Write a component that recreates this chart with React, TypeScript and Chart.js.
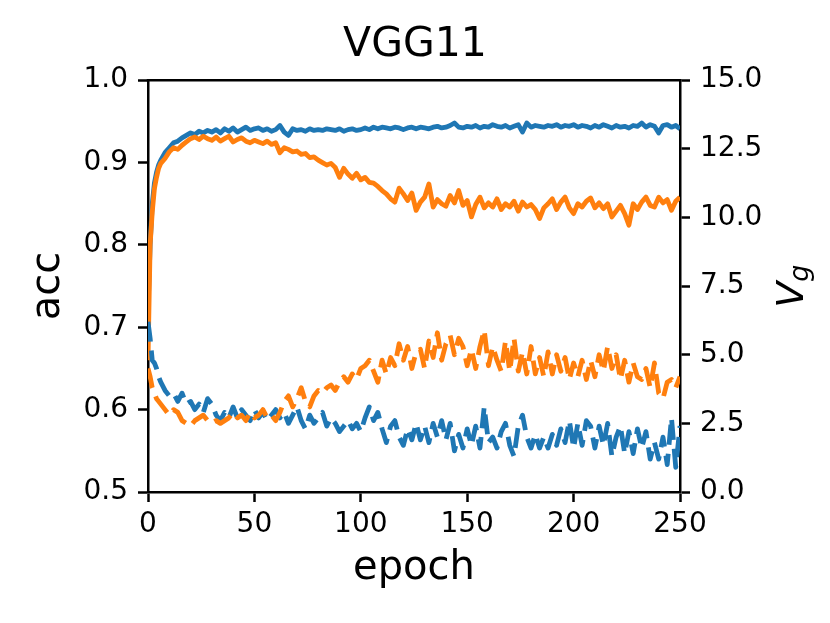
import { useEffect, useRef } from 'react';
import { Chart, registerables } from 'chart.js';

Chart.register(...registerables);

// epochs sampled from the plot (dense at the start, every 2 epochs afterwards)
const EPOCHS = [
  0, 1, 2, 3, 4, 5, 6,
  8, 10, 12, 14, 16, 18, 20, 22, 24, 26,
  28, 30, 32, 34, 36, 38, 40, 42, 44, 46,
  48, 50, 52, 54, 56, 58, 60, 62, 64, 66,
  68, 70, 72, 74, 76, 78, 80, 82, 84, 86,
  88, 90, 92, 94, 96, 98, 100, 102, 104, 106,
  108, 110, 112, 114, 116, 118, 120, 122, 124, 126,
  128, 130, 132, 134, 136, 138, 140, 142, 144, 146,
  148, 150, 152, 154, 156, 158, 160, 162, 164, 166,
  168, 170, 172, 174, 176, 178, 180, 182, 184, 186,
  188, 190, 192, 194, 196, 198, 200, 202, 204, 206,
  208, 210, 212, 214, 216, 218, 220, 222, 224, 226,
  228, 230, 232, 234, 236, 238, 240, 242, 244, 246,
  248, 250,
];

// acc, left axis
const TRAIN_ACC = [
  0.72, 0.80, 0.85, 0.875, 0.888, 0.897, 0.903,
  0.912, 0.918, 0.924, 0.926, 0.930, 0.933, 0.936, 0.934, 0.938, 0.936,
  0.939, 0.937, 0.940, 0.936, 0.941, 0.938, 0.942, 0.937, 0.940, 0.943,
  0.939, 0.941, 0.942, 0.939, 0.941, 0.938, 0.940, 0.945, 0.937, 0.933,
  0.941, 0.939, 0.940, 0.938, 0.941, 0.939, 0.940, 0.939, 0.941, 0.940,
  0.939, 0.941, 0.938, 0.940, 0.941, 0.939, 0.940, 0.942, 0.940, 0.943,
  0.941, 0.943, 0.942, 0.941, 0.943, 0.942, 0.940, 0.942, 0.943, 0.941,
  0.943, 0.942, 0.941, 0.943, 0.944, 0.942, 0.943, 0.945, 0.948, 0.943,
  0.942, 0.944, 0.943, 0.945, 0.942, 0.944, 0.943, 0.946, 0.944, 0.943,
  0.945, 0.942, 0.944, 0.946, 0.937, 0.948, 0.943, 0.945, 0.944, 0.943,
  0.945, 0.944, 0.946, 0.943, 0.945, 0.944, 0.946, 0.943, 0.945, 0.944,
  0.942, 0.945, 0.943, 0.946, 0.944, 0.942, 0.945, 0.943, 0.944, 0.942,
  0.945, 0.944, 0.948, 0.943, 0.946, 0.944, 0.936, 0.945, 0.946, 0.943,
  0.945, 0.941,
];

const TEST_ACC = [
  0.66, 0.80, 0.84, 0.868, 0.882, 0.893, 0.899,
  0.905, 0.913, 0.918, 0.916, 0.921, 0.925, 0.929, 0.931, 0.928, 0.932,
  0.929, 0.927, 0.931, 0.926, 0.929, 0.932, 0.925, 0.928, 0.930, 0.926,
  0.924, 0.927, 0.925, 0.923, 0.926, 0.922, 0.924, 0.912, 0.918, 0.916,
  0.913, 0.914, 0.910, 0.911, 0.906, 0.907, 0.903, 0.900, 0.897, 0.899,
  0.894, 0.882, 0.893, 0.886, 0.881, 0.887, 0.879, 0.882, 0.876, 0.875,
  0.871, 0.866, 0.862, 0.856, 0.852, 0.869, 0.862, 0.854, 0.863, 0.842,
  0.852, 0.858, 0.874, 0.846, 0.855, 0.850, 0.847, 0.860, 0.851, 0.866,
  0.848, 0.854, 0.834, 0.849, 0.858, 0.845, 0.851, 0.846, 0.856, 0.843,
  0.850, 0.846, 0.853, 0.841, 0.852, 0.846, 0.849, 0.843, 0.832, 0.845,
  0.850, 0.856, 0.843, 0.852, 0.858, 0.845, 0.838, 0.850, 0.846, 0.853,
  0.857, 0.845, 0.851, 0.844, 0.850, 0.834, 0.841, 0.848, 0.838, 0.824,
  0.850, 0.843, 0.852, 0.858, 0.848, 0.846, 0.858, 0.851, 0.855, 0.842,
  0.853, 0.858,
];

// V_g, right axis
const TRAIN_VG = [
  6.2, 5.6, 4.8, 4.7, 4.5, 4.2, 4.0,
  3.7, 3.5, 3.6, 3.3, 3.6, 3.2, 3.3, 3.0, 3.2, 2.9,
  3.4, 3.2, 2.8, 2.6, 2.9, 2.7, 3.1, 2.7, 3.0, 2.8,
  2.6, 3.0, 2.7, 2.9, 2.6, 2.8, 3.0, 2.7, 2.9, 2.5,
  2.8, 3.1, 2.6, 2.3, 2.8, 2.5, 2.7, 2.9, 2.4, 2.7,
  2.5, 2.2, 2.4, 2.6, 2.3, 2.5, 2.2, 2.7, 3.1, 2.6,
  2.9, 2.3, 1.8, 2.4, 2.6, 2.0, 1.7, 2.3, 1.9, 2.5,
  1.9, 2.4, 1.8, 2.5, 2.0, 2.6, 1.9, 2.5, 1.5, 2.1,
  1.6, 2.3, 1.7, 2.4, 1.6, 3.1, 1.8, 2.0, 1.6, 2.2,
  2.5, 1.7, 1.3, 2.4, 2.8, 2.0, 1.6, 2.1, 1.6, 2.0,
  1.6, 2.1, 1.7, 2.3, 1.8, 2.6, 1.6, 2.5, 1.7, 2.6,
  2.4, 1.6, 2.4, 1.7, 2.5, 1.3, 2.0, 2.4, 1.4, 2.2,
  1.4, 2.3, 1.6, 2.2, 1.2, 1.8, 1.2, 2.0, 1.0, 2.7,
  0.9, 2.4,
];

const TEST_VG = [
  4.5, 4.2, 3.8, 3.6, 3.4, 3.3, 3.2,
  3.0, 2.8, 3.0, 2.9, 2.6, 2.5, 2.4, 2.6, 2.7, 2.8,
  2.6, 2.5, 2.6, 2.5, 2.6, 2.7, 2.9, 2.7, 2.8, 2.6,
  2.9, 2.7, 2.8, 3.0, 2.7, 2.8, 2.6, 2.9, 3.3, 3.5,
  3.1, 3.4, 3.8, 3.3, 3.1, 3.5, 3.7, 3.6, 3.8, 3.9,
  3.7, 4.0, 4.2, 4.0, 4.3, 4.1, 4.5, 4.6, 4.8, 4.4,
  4.0, 4.8, 4.3, 4.9, 4.6, 5.4, 4.8, 5.3, 4.5, 5.1,
  5.2, 4.5, 5.5, 4.9, 5.8, 4.8, 5.4, 5.7, 5.0, 5.6,
  5.3, 4.6, 5.2, 4.5, 5.3, 5.9, 4.6, 5.3, 4.8, 4.4,
  5.5, 4.4, 5.6, 4.4, 5.1, 4.3, 5.3, 4.3, 4.9, 4.2,
  5.1, 4.3, 5.0, 4.4, 4.9, 4.1, 4.7, 4.2, 4.8, 4.1,
  4.8, 4.2, 5.0, 4.4, 5.3, 4.5, 5.0, 4.1, 4.8, 4.0,
  4.7, 4.2, 4.1, 4.5, 3.8, 4.7, 3.6, 3.4, 4.0, 4.1,
  3.8, 4.2,
];

const BLUE = '#1f77b4';
const ORANGE = '#ff7f0e';
const FONT = 'DejaVu Sans';

const toPoints = (ys: number[]) => ys.map((y, i) => ({ x: EPOCHS[i], y }));

// matplotlib-ish top spine and the rotated V_g label on the right
const extrasPlugin = {
  id: 'extras',
  afterDraw(chart: any) {
    const { ctx, chartArea } = chart;
    ctx.save();
    ctx.strokeStyle = '#000';
    ctx.lineWidth = 2.5;
    ctx.beginPath();
    ctx.moveTo(chartArea.left - 1.25, chartArea.top);
    ctx.lineTo(chartArea.right + 1.25, chartArea.top);
    ctx.stroke();

    const midY = (chartArea.top + chartArea.bottom) / 2;
    ctx.translate(chartArea.right + 123, midY);
    ctx.rotate(-Math.PI / 2);
    ctx.fillStyle = '#000';
    ctx.textBaseline = 'alphabetic';
    ctx.font = `italic 38px "${FONT}"`;
    const wV = ctx.measureText('V').width;
    ctx.font = `italic 27px "${FONT}"`;
    const wg = ctx.measureText('g').width;
    const start = -(wV + wg) / 2;
    ctx.font = `italic 38px "${FONT}"`;
    ctx.fillText('V', start, 0);
    ctx.font = `italic 27px "${FONT}"`;
    ctx.fillText('g', start + wV, 5);
    ctx.restore();
  },
};

export default function App() {
  const canvasRef = useRef<HTMLCanvasElement>(null);

  useEffect(() => {
    if (!canvasRef.current) return;
    const tickFont = { family: FONT, size: 28 };
    const labelFont = { family: FONT, size: 40 };
    const grid = { drawOnChartArea: false, tickLength: 10, tickColor: '#000', tickWidth: 2.5 };
    const border = { color: '#000', width: 2.5 };

    const chart = new Chart(canvasRef.current, {
      type: 'line',
      data: {
        datasets: [
          { data: toPoints(TRAIN_ACC), borderColor: BLUE, yAxisID: 'y', order: 4 },
          { data: toPoints(TEST_ACC), borderColor: ORANGE, yAxisID: 'y', order: 3 },
          { data: toPoints(TRAIN_VG), borderColor: BLUE, yAxisID: 'y2', borderDash: [20, 9], order: 2 },
          { data: toPoints(TEST_VG), borderColor: ORANGE, yAxisID: 'y2', borderDash: [20, 9], order: 1 },
        ],
      },
      options: {
        responsive: false,
        animation: false,
        events: [],
        elements: {
          line: { borderWidth: 4.8, tension: 0, borderJoinStyle: 'round', fill: false },
          point: { radius: 0 },
        },
        plugins: {
          legend: { display: false },
          tooltip: { enabled: false },
          title: {
            display: true,
            text: 'VGG11',
            color: '#000',
            font: { family: FONT, size: 41, weight: 'normal' },
            padding: { top: 21, bottom: 10 },
          },
        },
        scales: {
          x: {
            type: 'linear',
            min: 0,
            max: 250,
            ticks: { stepSize: 50, font: tickFont, color: '#000', padding: 6, maxRotation: 0 },
            grid,
            border,
            title: { display: true, text: 'epoch', color: '#000', font: labelFont, padding: { bottom: 30 } },
            afterFit: (s: any) => { s.height = 131; },
          },
          y: {
            position: 'left',
            min: 0.5,
            max: 1.0,
            ticks: { stepSize: 0.1, font: tickFont, color: '#000', padding: 10, callback: (v: any) => Number(v).toFixed(1) },
            grid,
            border,
            title: { display: true, text: 'acc', color: '#000', font: labelFont, padding: { top: 25 } },
            afterFit: (s: any) => { s.width = 148; },
          },
          y2: {
            position: 'right',
            min: 0,
            max: 15,
            ticks: { stepSize: 2.5, font: tickFont, color: '#000', padding: 10, callback: (v: any) => Number(v).toFixed(1) },
            grid,
            border,
            afterFit: (s: any) => { s.width = 150; },
          },
        },
      },
      plugins: [extrasPlugin],
    });

    return () => chart.destroy();
  }, []);

  return (
    <div style={{ position: 'absolute', left: 0, top: 0, width: 830, height: 623, background: '#fff' }}>
      <canvas ref={canvasRef} width={830} height={623} />
    </div>
  );
}
